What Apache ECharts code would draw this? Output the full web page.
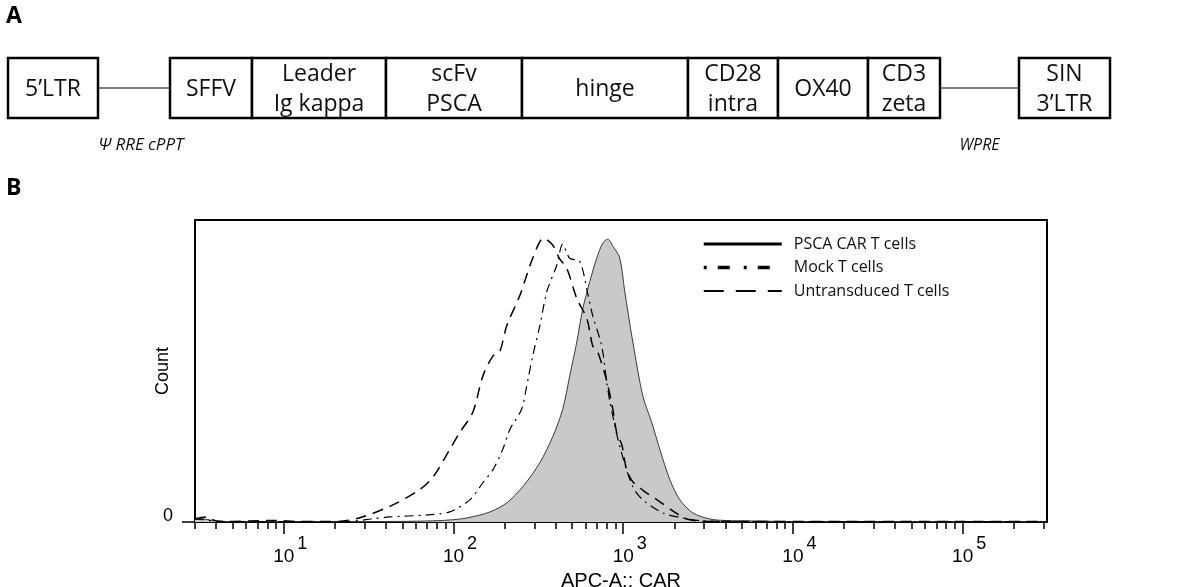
<!DOCTYPE html>
<html>
<head>
<meta charset="utf-8">
<script src="https://cdn.jsdelivr.net/npm/echarts@6/dist/echarts.min.js"></script>
<style>
html,body{margin:0;padding:0;background:#fff;}
#chart{width:1200px;height:587px;}
</style>
</head>
<body>
<div id="chart"></div>
<script>
// ---------- Panel A: construct elements (schematic units along the vector) ----------
const segNames = ['5’LTR', 'SFFV', 'Leader\nIg kappa', 'scFv\nPSCA', 'hinge', 'CD28\nintra', 'OX40', 'CD3\nzeta', 'SIN\n3’LTR'];
const segStart = [8, 170, 252, 386, 522, 688, 778, 868, 1019];
const segEnd   = [98, 252, 386, 522, 688, 778, 868, 940, 1110];
const linkNames = ['Ψ RRE cPPT', 'WPRE'];
const linkStart = [98, 940];
const linkEnd   = [170, 1019];

// ---------- Panel B: histogram overlay (APC-A:: CAR, log scale) ----------
const seriesNames = ['PSCA CAR T cells', 'Mock T cells', 'Untransduced T cells'];
const pscaX = [3, 3.4, 4, 5, 7, 10, 20, 40, 70, 95, 120, 164, 206, 256, 323, 385, 440, 484, 533, 578, 636, 698, 758, 811, 870, 955, 1021, 1139, 1306, 1472, 1644, 1884, 2158, 2573, 3236, 4000, 6000, 10000, 30000, 100000, 300000];
const pscaY = [4, 3, 1, 0.5, 0.5, 0.5, 0.5, 0.5, 1, 2, 4, 10, 19, 35, 59, 85, 112, 145, 179, 212, 239, 262, 277, 281, 274, 262, 229, 179, 125, 99, 72, 42, 22, 9, 3, 1.5, 1, 0.5, 0.5, 0.3, 0.3];
const mockX = [3, 3.5, 4, 6, 10, 23.5, 33, 42, 70, 95, 125, 149, 171, 195, 215, 252, 270, 293, 323, 355, 406, 440, 484, 554, 618, 661, 747, 800, 836, 955, 1139, 1306, 1711, 2230, 3000, 5000, 100000, 300000];
const mockY = [3, 2, 0.5, 0.5, 0.5, 0.5, 3, 5, 7, 10, 22, 39, 52, 72, 92, 112, 135, 165, 195, 229, 255, 276, 262, 259, 227, 205, 175, 139, 119, 75, 35, 22, 9, 4, 1, 0.5, 0.5, 0.5];
const untrX = [3, 3.5, 4, 5, 8, 9, 12, 21, 29, 44, 63, 76, 95, 109, 130, 149, 171, 187, 206, 246, 293, 340, 385, 420, 465, 533, 611, 661, 707, 800, 869, 915, 980, 1047, 1139, 1371, 1585, 2040, 2370, 2827, 4000, 10000, 100000, 300000];
const untrY = [3, 5, 1, 0.5, 1.5, 1.5, 0.5, 0.5, 5, 17, 32, 45, 72, 89, 109, 145, 165, 169, 195, 225, 262, 282, 275, 262, 252, 222, 202, 175, 169, 140, 112, 89, 77, 52, 40, 29, 22, 9, 3, 1, 0.5, 0.5, 0.5, 0.5];

const majorTicks = [10, 100, 1000, 10000, 100000];
const minorTicks = [3, 4, 5, 6, 7, 8, 9, 20, 30, 40, 50, 60, 70, 80, 90, 200, 300, 400, 500, 600, 700, 800, 900,
  2000, 3000, 4000, 5000, 6000, 7000, 8000, 9000, 20000, 30000, 40000, 50000, 60000, 70000, 80000, 90000, 200000, 300000];

const zip = (xs, ys) => xs.map((x, i) => [x, ys[i]]);

const ARIAL = '"Liberation Sans", Arial, sans-serif';
const HUMAN = '"Open Sans", "Noto Sans", sans-serif';
const BOX_TOP = 58, BOX_BOTTOM = 118, LINK_Y = 88, LINK_LABEL_Y = 145;

const chart = echarts.init(document.getElementById('chart'), null, {renderer: 'canvas'});

const option = {
  animation: false,
  backgroundColor: '#fff',
  title: [
    {text: 'A', left: 6, top: 5, padding: 0, textStyle: {fontFamily: HUMAN, fontSize: 23, fontWeight: 'bold', color: '#000'}},
    {text: 'B', left: 6, top: 177, padding: 0, textStyle: {fontFamily: HUMAN, fontSize: 23, fontWeight: 'bold', color: '#000'}}
  ],
  legend: {
    left: 697, top: 231, orient: 'vertical',
    itemWidth: 78, itemHeight: 14, itemGap: 7.5,
    selectedMode: false,
    textStyle: {fontFamily: HUMAN, fontSize: 16, color: '#111', padding: [0, 0, 0, 7]},
    data: [
      {name: seriesNames[0], lineStyle: {color: '#000', width: 3, type: 'solid'}, itemStyle: {opacity: 0}},
      {name: seriesNames[1], lineStyle: {color: '#000', width: 3.5, type: [3, 11, 12, 14]}, itemStyle: {opacity: 0}},
      {name: seriesNames[2], lineStyle: {color: '#000', width: 2, type: [20, 12]}, itemStyle: {opacity: 0}}
    ]
  },
  grid: [
    {left: 0, right: 0, top: 0, height: 170, outerBoundsMode: 'none', containLabel: false},
    {left: 195, right: 153, top: 220, bottom: 65, show: true, borderColor: '#000', borderWidth: 2,
     backgroundColor: 'transparent', outerBoundsMode: 'none', containLabel: false}
  ],
  xAxis: [
    {gridIndex: 0, type: 'value', min: 0, max: 1200, show: false},
    {
      gridIndex: 1, type: 'log', logBase: 10, min: 3, max: 314000, position: 'bottom',
      axisLine: {show: true, lineStyle: {color: '#000', width: 2}},
      axisTick: {show: true, length: 12, customValues: majorTicks, lineStyle: {color: '#000', width: 1.5}},
      splitLine: {show: false}, minorTick: {show: false},
      axisLabel: {
        show: true, customValues: majorTicks, margin: 24,
        formatter: v => '{s| }{b|10}{p|' + Math.round(Math.log10(v)) + '}',
        rich: {
          s: {width: 13, fontSize: 10},
          b: {fontFamily: ARIAL, fontSize: 19, color: '#000', verticalAlign: 'bottom', lineHeight: 20},
          p: {fontFamily: ARIAL, fontSize: 18, color: '#000', verticalAlign: 'bottom', lineHeight: 20, padding: [0, 0, 13, 3]}
        }
      },
      name: 'APC-A:: CAR', nameLocation: 'middle', nameGap: 49, nameMoveOverlap: false,
      nameTextStyle: {fontFamily: ARIAL, fontSize: 20, color: '#000'}
    },
    {
      gridIndex: 1, type: 'log', logBase: 10, min: 3, max: 314000, position: 'bottom',
      axisLine: {show: false},
      axisTick: {show: true, length: 7, customValues: minorTicks, lineStyle: {color: '#000', width: 1.5}},
      axisLabel: {show: false}, splitLine: {show: false}
    }
  ],
  yAxis: [
    {gridIndex: 0, type: 'value', min: 0, max: 170, inverse: true, show: false},
    {
      gridIndex: 1, type: 'value', min: 0, max: 300,
      axisLine: {show: true, lineStyle: {color: '#000', width: 2}},
      axisTick: {show: true, length: 13, customValues: [0], lineStyle: {color: '#000', width: 1.5}},
      axisLabel: {show: true, customValues: [0], margin: 22, fontFamily: ARIAL, fontSize: 18, color: '#000',
                  verticalAlign: 'bottom', lineHeight: 12},
      splitLine: {show: false},
      name: 'Count', nameLocation: 'middle', nameGap: 23, nameMoveOverlap: false,
      nameTextStyle: {fontFamily: ARIAL, fontSize: 18, color: '#000'}
    }
  ],
  series: [
    {
      type: 'custom', xAxisIndex: 0, yAxisIndex: 0, silent: true, clip: false,
      data: segStart.map((s, i) => [s, segEnd[i]]),
      renderItem: function (params, api) {
        const i = params.dataIndex;
        const p0 = api.coord([api.value(0), BOX_TOP]);
        const p1 = api.coord([api.value(1), BOX_BOTTOM]);
        return {
          type: 'group',
          children: [
            {type: 'rect', shape: {x: p0[0], y: p0[1], width: p1[0] - p0[0], height: p1[1] - p0[1]},
             style: {fill: '#fff', stroke: '#000', lineWidth: 2.5}},
            {type: 'text', z2: 10,
             style: {text: segNames[i], x: (p0[0] + p1[0]) / 2, y: (p0[1] + p1[1]) / 2 + 1,
                     align: 'center', verticalAlign: 'middle', fontFamily: HUMAN, fontSize: 23,
                     lineHeight: 30, fill: '#111'}}
          ]
        };
      }
    },
    {
      type: 'custom', xAxisIndex: 0, yAxisIndex: 0, silent: true, clip: false,
      data: linkStart.map((s, i) => [s, linkEnd[i]]),
      renderItem: function (params, api) {
        const i = params.dataIndex;
        const p0 = api.coord([api.value(0), LINK_Y]);
        const p1 = api.coord([api.value(1), LINK_Y]);
        const pl = api.coord([(api.value(0) + api.value(1)) / 2, LINK_LABEL_Y]);
        return {
          type: 'group',
          children: [
            {type: 'line', shape: {x1: p0[0], y1: p0[1], x2: p1[0], y2: p1[1]}, style: {stroke: '#000', lineWidth: 1.2}},
            {type: 'text', style: {text: linkNames[i], x: pl[0] + (i === 0 ? 7 : 0), y: pl[1], align: 'center', verticalAlign: 'middle',
              fontFamily: HUMAN, fontSize: i === 0 ? 17 : 16, fontStyle: 'italic', fill: '#111'}}
          ]
        };
      }
    },
    {
      name: seriesNames[0], type: 'line', xAxisIndex: 1, yAxisIndex: 1,
      data: zip(pscaX, pscaY), symbol: 'none', smooth: 0.3,
      lineStyle: {color: '#3a3a3a', width: 1}, itemStyle: {color: '#000'},
      areaStyle: {color: '#c9c9c9', opacity: 1}, z: 2
    },
    {
      name: seriesNames[1], type: 'line', xAxisIndex: 1, yAxisIndex: 1,
      data: zip(mockX, mockY), symbol: 'none', smooth: 0.3,
      lineStyle: {color: '#000', width: 1.2, type: [9, 5, 2, 5]}, itemStyle: {color: '#000'}, z: 3
    },
    {
      name: seriesNames[2], type: 'line', xAxisIndex: 1, yAxisIndex: 1,
      data: zip(untrX, untrY), symbol: 'none', smooth: 0.3,
      lineStyle: {color: '#000', width: 1.5, type: [11, 7]}, itemStyle: {color: '#000'}, z: 4
    }
  ]
};
chart.setOption(option);
</script>
</body>
</html>
